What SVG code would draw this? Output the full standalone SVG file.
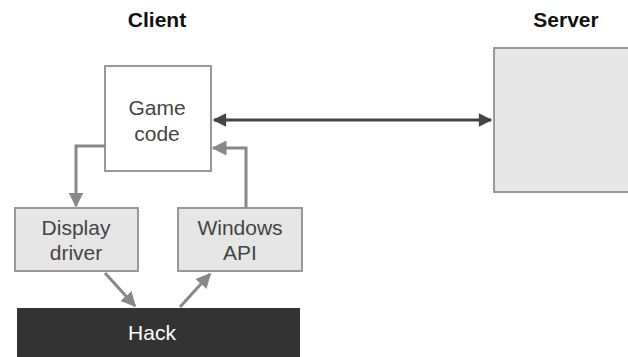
<svg xmlns="http://www.w3.org/2000/svg" width="628" height="357" viewBox="0 0 628 357">
<style>
.t{font-family:"Liberation Sans",Arial,sans-serif;font-size:21px;fill:#444;text-anchor:middle}
.h{font-family:"Liberation Sans",Arial,sans-serif;font-size:21px;font-weight:bold;fill:#111;text-anchor:middle}
.box{fill:#fff;stroke:#999;stroke-width:2}
.gbox{fill:#e6e6e6;stroke:#999;stroke-width:2}
.ga{fill:none;stroke:#888;stroke-width:3}
.da{fill:none;stroke:#444;stroke-width:3}
</style>
<defs>
<marker id="ag" viewBox="0 0 10 10" refX="9" refY="5" markerWidth="5" markerHeight="5" orient="auto" markerUnits="strokeWidth"><path d="M0,0 L10,5 L0,10 z" fill="#888"/></marker>
<marker id="ad" viewBox="0 0 10 10" refX="9" refY="5" markerWidth="5" markerHeight="4.5" orient="auto-start-reverse" markerUnits="strokeWidth"><path d="M0,0 L10,5 L0,10 z" fill="#444"/></marker>
</defs>
<rect width="628" height="357" fill="#fff"/>
<text class="h" x="157" y="27">Client</text>
<text class="h" x="566" y="27">Server</text>
<g id="game">
<rect class="box" x="105" y="66" width="106" height="105"/>
<text class="t" x="157" y="115">Game</text>
<text class="t" x="157" y="141">code</text>
</g>
<g id="server">
<rect class="gbox" x="494" y="48" width="140" height="144"/>
</g>
<g id="display">
<rect class="gbox" x="15" y="208" width="123" height="63"/>
<text class="t" x="76" y="235">Display</text>
<text class="t" x="76" y="260">driver</text>
</g>
<g id="windows">
<rect class="gbox" x="178" y="208" width="124" height="63"/>
<text class="t" x="240" y="235">Windows</text>
<text class="t" x="240" y="260">API</text>
</g>
<g id="hack">
<rect x="17" y="308" width="283" height="60" fill="#333"/>
<text class="t" x="152" y="340" style="fill:#fff">Hack</text>
</g>
<g id="connectors">
<path class="da" d="M214,120 L491,120" marker-start="url(#ad)" marker-end="url(#ad)"/>
<path class="ga" d="M105,146 L76,146 L76,206" marker-end="url(#ag)"/>
<path class="ga" d="M246,208 L246,148 L213,148" marker-end="url(#ag)"/>
<path class="ga" d="M105,273 L135,306" marker-end="url(#ag)"/>
<path class="ga" d="M180,307 L210,274" marker-end="url(#ag)"/>
</g>
</svg>
